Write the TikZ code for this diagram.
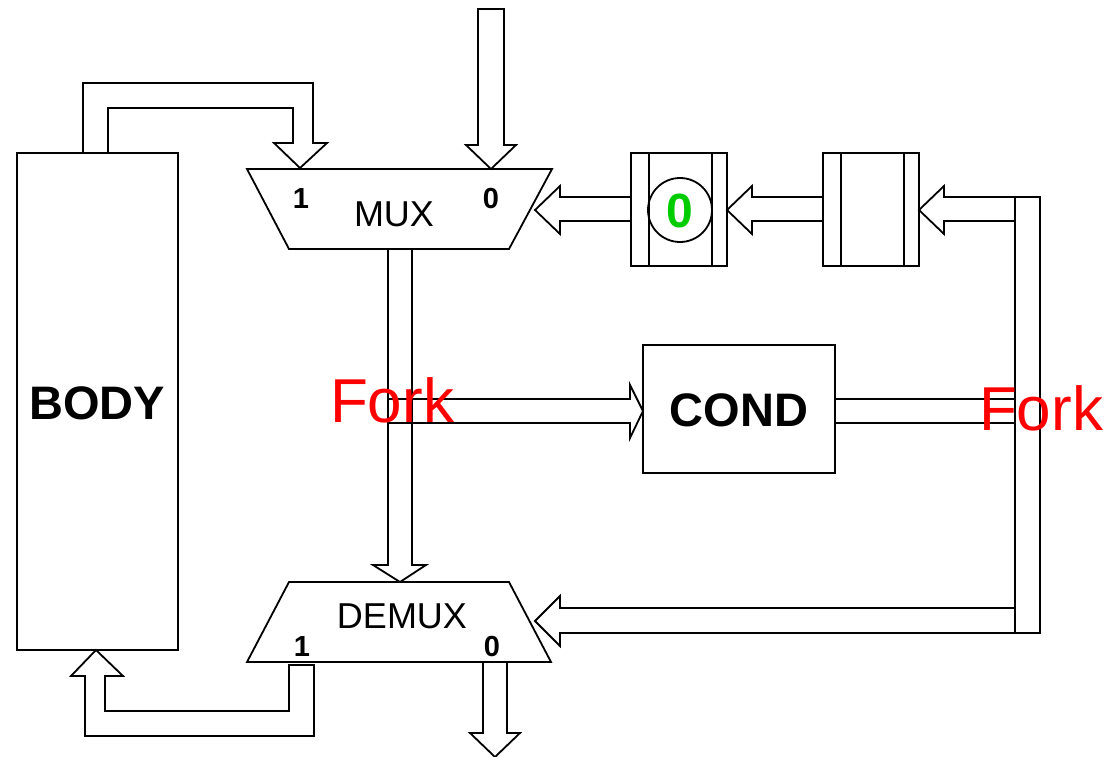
\documentclass[tikz,border=0pt]{standalone}
\usepackage{fontspec}
\setmainfont{Liberation Sans}
\definecolor{forkred}{RGB}{255,0,0}
\definecolor{zerogreen}{RGB}{0,204,0}
\begin{document}
\begin{tikzpicture}[x=1pt,y=-1pt,
  ln/.style={draw=black,line width=1.8pt,line join=miter},
  bigbold/.style={font=\fontsize{47}{50}\selectfont\bfseries,inner sep=0pt},
  muxtext/.style={font=\fontsize{36}{40}\selectfont,inner sep=0pt},
  portlbl/.style={font=\fontsize{29}{32}\selectfont\bfseries,inner sep=0pt},
  forktext/.style={font=\fontsize{62}{66}\selectfont,text=forkred,inner sep=0pt}]
\useasboundingbox (0,0) rectangle (1109,757);

% BODY
\draw[ln] (17,153) rectangle (178,650);
\node[bigbold] (body) at (97,403) {BODY};

% MUX
\draw[ln] (247,169) -- (552,169) -- (509,249) -- (289,249) -- cycle;
\node[muxtext] (mux) at (394,214) {MUX};
\node[portlbl] (mux1) at (301,199) {1};
\node[portlbl] (mux0) at (491,199) {0};

% DEMUX
\draw[ln] (289,582) -- (509,582) -- (551,662) -- (247,662) -- cycle;
\node[muxtext] (demux) at (402,616) {DEMUX};
\node[portlbl] (demux1) at (302,647) {1};
\node[portlbl] (demux0) at (492,647) {0};

% COND
\draw[ln] (643,345) rectangle (835,473);
\node[bigbold] (cond) at (739,410) {COND};

% Buffer 1 (with 0)
\draw[ln] (631,153) rectangle (727,266);
\draw[ln] (649,153) -- (649,266);
\draw[ln] (712,153) -- (712,266);
\draw[ln] (680,210) circle (32);
\node[font=\fontsize{48}{50}\selectfont\bfseries,text=zerogreen,inner sep=0pt] (init) at (680,211) {0};

% Buffer 2
\draw[ln] (823,153) rectangle (919,266);
\draw[ln] (841,153) -- (841,266);
\draw[ln] (904,153) -- (904,266);

% BODY -> MUX 1
\draw[ln] (83,153) -- (83,83) -- (313,83) -- (313,143) -- (327,143) -- (300,168)
  -- (274,143) -- (293,143) -- (293,108) -- (108,108) -- (108,153) -- cycle;

% top input -> MUX 0
\draw[ln] (478,9) -- (504,9) -- (504,145) -- (516,145) -- (491,169) -- (466,145)
  -- (478,145) -- cycle;

% MUX -> DEMUX
\draw[ln] (388,249) -- (388,565) -- (373,565) -- (400,582) -- (426,565)
  -- (412,565) -- (412,249);

% fork -> COND
\draw[ln] (388,399) -- (630,399) -- (630,385) -- (643,411) -- (630,438)
  -- (630,423) -- (388,423);

% COND -> right bar
\draw[ln] (835,399) -- (1015,399);
\draw[ln] (835,423) -- (1015,423);

% right bar
\draw[ln] (1015,197) -- (1015,633) -- (1040,633) -- (1040,197) -- cycle;

% bar -> buffer 2
\draw[ln] (1015,197) -- (944,197) -- (944,186) -- (919,210) -- (944,234)
  -- (944,221) -- (1015,221);

% buffer 2 -> buffer 1
\draw[ln] (823,197) -- (752,197) -- (752,186) -- (727,210) -- (752,234)
  -- (752,221) -- (823,221);

% buffer 1 -> MUX
\draw[ln] (631,197) -- (560,197) -- (560,186) -- (535,210) -- (560,234)
  -- (560,221) -- (631,221);

% bar -> DEMUX
\draw[ln] (1015,608) -- (560,608) -- (560,596) -- (535,621) -- (560,646)
  -- (560,633) -- (1015,633);

% DEMUX 1 -> BODY
\draw[ln] (289,665) -- (314,665) -- (314,736) -- (85,736) -- (85,676) -- (71,676)
  -- (96,650) -- (123,676) -- (105,676) -- (105,711) -- (289,711) -- cycle;

% DEMUX 0 -> out
\draw[ln] (483,662) -- (483,733) -- (470,733) -- (495,757) -- (520,733)
  -- (507,733) -- (507,662);

% Fork labels
\node[forktext] (forkL) at (392,400) {Fork};
\node[forktext] (forkR) at (1041,408) {Fork};
\end{tikzpicture}
\end{document}
